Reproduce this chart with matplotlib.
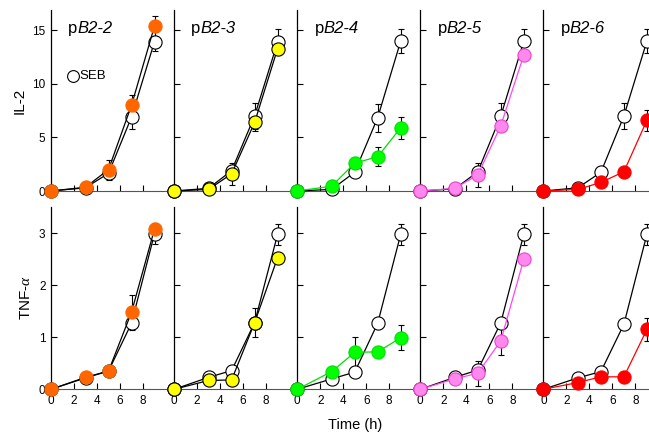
import matplotlib
matplotlib.use("Agg")
import matplotlib.pyplot as plt

plt.rcParams['font.family'] = ['Liberation Sans', 'DejaVu Sans']
plt.rcParams['mathtext.fontset'] = 'custom'
plt.rcParams['mathtext.it'] = 'Liberation Serif:italic'
plt.rcParams['mathtext.rm'] = 'Liberation Sans'

# time points (h)
time = [0, 3, 5, 7, 9]
panels = ['2', '3', '4', '5', '6']

# IL-2, SEB alone (open circles), one run per panel
il2_seb = [
    [0, 0.30, 1.65, 6.9, 13.95],
    [0, 0.25, 1.90, 7.0, 13.9],
    [0, 0.15, 1.75, 6.85, 14.0],
    [0, 0.20, 1.80, 7.0, 14.0],
    [0, 0.30, 1.75, 7.0, 14.0],
]
il2_seb_err = [
    [0, 0, 0.6, 1.1, 0.9],
    [0, 0, 0.5, 1.2, 1.2],
    [0, 0, 0, 1.3, 1.1],
    [0, 0, 0.3, 1.2, 1.1],
    [0, 0, 0, 1.2, 1.1],
]
# IL-2, SEB + peptide (filled circles)
il2_pep = [
    [0, 0.35, 2.0, 8.0, 15.4],
    [0, 0.15, 1.6, 6.4, 13.3],
    [0, 0.45, 2.6, 3.2, 5.9],
    [0, 0.25, 1.5, 6.1, 12.7],
    [0, 0.15, 0.8, 1.8, 6.6],
]
il2_pep_err = [
    [0, 0, 0.9, 1.0, 0.9],
    [0, 0, 1.0, 0.8, 0.5],
    [0, 0, 0, 0.9, 1.0],
    [0, 0, 1.1, 0.5, 0.4],
    [0, 0, 0, 0, 1.0],
]
# TNF-alpha
tnf_seb = [
    [0, 0.22, 0.35, 1.27, 2.99],
    [0, 0.23, 0.36, 1.28, 2.98],
    [0, 0.20, 0.33, 1.27, 2.98],
    [0, 0.23, 0.37, 1.28, 2.98],
    [0, 0.22, 0.34, 1.25, 2.98],
]
tnf_seb_err = [
    [0, 0, 0, 0.13, 0.2],
    [0, 0, 0, 0, 0.2],
    [0, 0, 0, 0, 0.2],
    [0, 0, 0, 0, 0.2],
    [0, 0, 0, 0, 0.2],
]
tnf_pep = [
    [0, 0.23, 0.35, 1.48, 3.08],
    [0, 0.17, 0.18, 1.28, 2.53],
    [0, 0.34, 0.71, 0.72, 0.99],
    [0, 0.20, 0.31, 0.93, 2.50],
    [0, 0.13, 0.24, 0.24, 1.15],
]
tnf_pep_err = [
    [0, 0, 0, 0.33, 0],
    [0, 0, 0, 0.28, 0],
    [0, 0, 0.3, 0, 0.24],
    [0, 0, 0.24, 0.28, 0],
    [0, 0, 0, 0, 0.23],
]

fills = ['#FF6600', '#FFFF00', '#00FF00', '#FF88EE', '#FF0000']
edges = ['#FF6600', 'black', '#00E000', '#EE44CC', '#FF0000']
lines = ['black', 'black', '#00E000', '#FF44FF', '#FF0000']

W, H = 649, 437
fig = plt.figure(figsize=(W / 100, H / 100), dpi=100)

rows = [
    (il2_seb, il2_seb_err, il2_pep, il2_pep_err, 16.9, [0, 5, 10, 15], 'IL-2', 191, 181),
    (tnf_seb, tnf_seb_err, tnf_pep, tnf_pep_err, 3.51, [0, 1, 2, 3], r'TNF-$\alpha$', 389.3, 182.6),
]

for r, (seb, seb_e, pep, pep_e, ymax, yt, ylab, ybot, yh) in enumerate(rows):
    for i in range(5):
        left = 51 + 123.1 * i
        ax = fig.add_axes([left / W, (H - ybot) / H, 115 / W, yh / H])
        ax.set_xlim(0, 10)
        ax.set_ylim(0, ymax)
        for s in ['top', 'right']:
            ax.spines[s].set_visible(False)
        ax.spines['bottom'].set_color('#555555')
        ax.spines['left'].set_linewidth(0.9)
        ax.set_xticks([0, 2, 4, 6, 8])
        ax.set_yticks(yt)
        ax.tick_params(direction='in', length=4, width=0.8, labelsize=8.5, pad=4)
        if r == 0:
            ax.set_xticklabels([])
        if i > 0:
            ax.set_yticklabels([])
        else:
            ax.set_ylabel(ylab, fontsize=11, labelpad=4)

        ax.errorbar(time, seb[i], yerr=seb_e[i], fmt='none', ecolor='black',
                    elinewidth=0.8, capsize=2.5, capthick=0.8, zorder=1, clip_on=False)
        ax.errorbar(time, pep[i], yerr=pep_e[i], fmt='none', ecolor='black',
                    elinewidth=0.8, capsize=2.5, capthick=0.8, zorder=1, clip_on=False)
        ax.plot(time, seb[i], '-o', color='black', lw=0.9, ms=9.5, mfc='white',
                mec='black', mew=0.8, zorder=3, clip_on=False)
        ax.plot(time, pep[i], '-o', color=lines[i], lw=0.9, ms=9.5, mfc=fills[i],
                mec=edges[i], mew=0.8, zorder=4, clip_on=False)

        if r == 0:
            t = ax.text(0.15, 0.875, 'p', transform=ax.transAxes, fontsize=12,
                        ha='left', va='baseline')
            ax.annotate('B2-' + panels[i], xy=(1, 0), xycoords=t, fontsize=12,
                        style='italic', ha='left', va='bottom')
            if i == 0:
                ax.plot([0.19], [0.635], 'o', transform=ax.transAxes, ms=8.5,
                        mfc='white', mec='black', mew=0.8, clip_on=False)
                ax.text(0.25, 0.635, 'SEB', transform=ax.transAxes, fontsize=9.5,
                        ha='left', va='center')

fig.text(355 / W, 1 - 425 / H, 'Time (h)', ha='center', va='center', fontsize=10.5)

fig.savefig('out.png', dpi=100)
